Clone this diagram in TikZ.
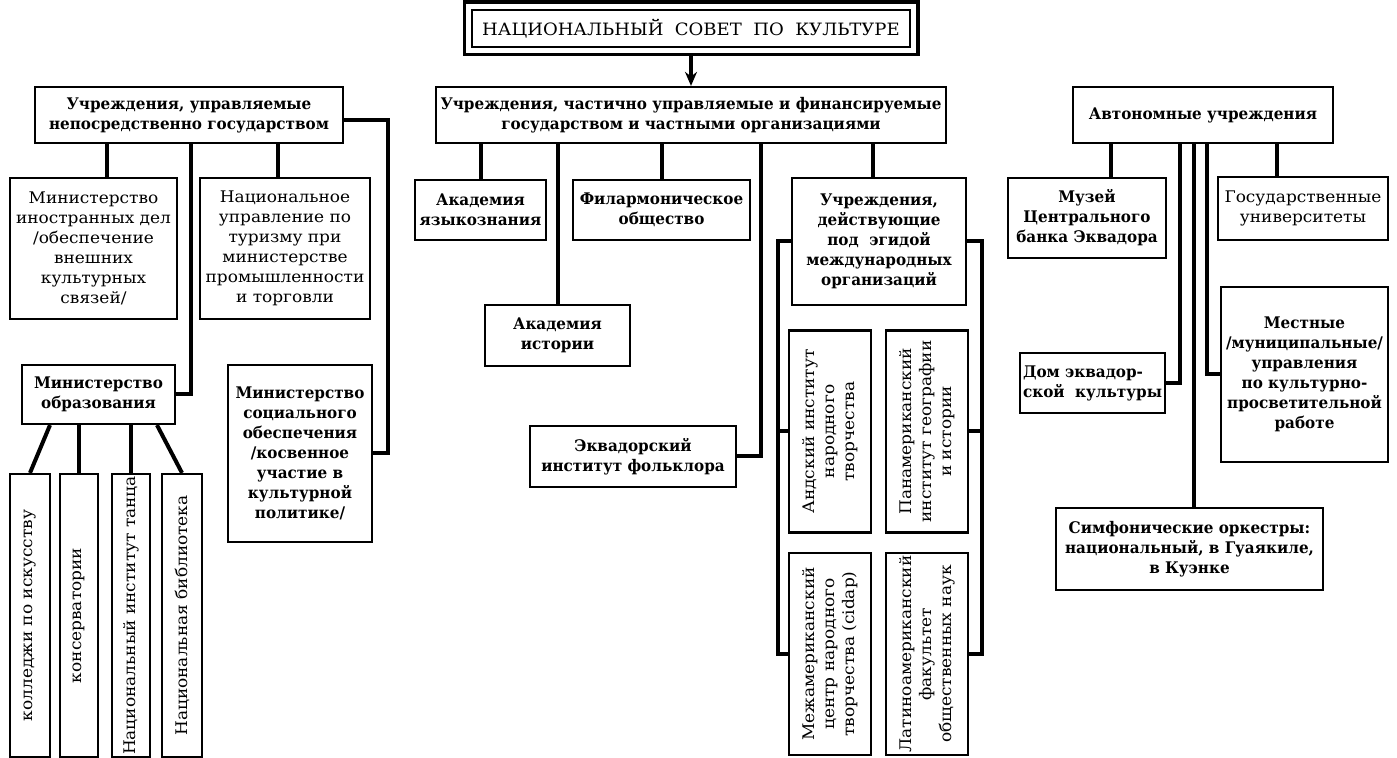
\documentclass[tikz,border=0pt]{standalone}
\usepackage{fontspec}
\setmainfont{DejaVu Serif}[UprightFeatures={FakeStretch=1.06}, BoldFeatures={FakeStretch=0.95}]
\usetikzlibrary{arrows.meta}

\newcommand{\chartfont}{\fontsize{8}{10}\selectfont}

\begin{document}
\begin{tikzpicture}[x=0.5pt,y=-0.5pt,
    blk/.style={draw, line width=1.1pt, align=center, inner sep=1pt, font=\chartfont\bfseries},
    blkplain/.style={blk, font=\chartfont},
    vblk/.style={blkplain, rotate=90},
    link/.style={line width=2pt}]
  \useasboundingbox (0,0) rectangle (1397,758);

  % council
  \node[blkplain, line width=0.9pt, minimum width=219pt, minimum height=18.5pt,
        font=\fontsize{8.5}{10}\selectfont] (sovet) at (691,28.5)
        {НАЦИОНАЛЬНЫЙ\ \ СОВЕТ\ \ ПО\ \ КУЛЬТУРЕ};
  \draw[line width=1.6pt] ([shift={(-3.5pt,3.5pt)}]sovet.north west) rectangle ([shift={(3.5pt,-3.5pt)}]sovet.south east);

  % three groups
  \node[blk, minimum width=154pt, minimum height=28pt] (gos) at (189,115)
        {Учреждения, управляемые\\непосредственно государством};
  \node[blk, minimum width=255pt, minimum height=28pt] (chast) at (691,115)
        {Учреждения, частично управляемые и финансируемые\\государством и частными организациями};
  \node[blk, minimum width=130pt, minimum height=28pt] (avto) at (1203,115)
        {Автономные учреждения};
  \draw[link, -{Stealth[length=7pt,width=6pt]}] ([yshift=-3.5pt]sovet.south) -- (chast.north);

  % state
  \node[blkplain, minimum width=83.5pt, minimum height=70.5pt] (mid) at (93.5,248.5)
        {Министерство\\иностранных дел\\/обеспечение\\внешних\\культурных\\связей/};
  \node[blkplain, minimum width=85pt, minimum height=70.5pt] (turizm) at (285,248.5)
        {Национальное\\управление по\\туризму при\\министерстве\\промышленности\\и торговли};
  \node[blk, minimum width=76.5pt, minimum height=29.5pt] (obraz) at (98.5,394.5)
        {Министерство\\образования};
  \node[blk, minimum width=72pt, minimum height=88.5pt] (socobes) at (300,453.5)
        {Министерство\\социального\\обеспечения\\/косвенное\\участие в\\культурной\\политике/};
  \node[vblk, minimum width=141.5pt, minimum height=20pt] (kolledzh) at (30,615.5) {колледжи по искусству};
  \node[vblk, minimum width=141.5pt, minimum height=19pt] (konserv) at (79,615.5) {консерватории};
  \node[vblk, minimum width=141.5pt, minimum height=19pt] (tanec) at (131,615.5) {Национальный институт танца};
  \node[vblk, minimum width=141.5pt, minimum height=20pt] (biblio) at (182,615.5) {Национальная библиотека};

  \draw[link] (107,0 |- gos.south) -- (107,0 |- mid.north);
  \draw[link] (191,0 |- gos.south) |- (obraz.east);
  \draw[link] (278,0 |- gos.south) -- (278,0 |- turizm.north);
  \draw[link] ([yshift=-2.5pt]gos.east) -| ([xshift=7.5pt]socobes.east) -- (socobes.east);
  \draw[link] (50,0 |- obraz.south) -- (kolledzh.east);
  \draw[link] (konserv.east |- obraz.south) -- (konserv.east);
  \draw[link] (tanec.east |- obraz.south) -- (tanec.east);
  \draw[link] (157,0 |- obraz.south) -- (biblio.east);

  % mixed
  \node[blk, minimum width=65.5pt, minimum height=30pt] (yazyk) at (480.5,210)
        {Академия\\языкознания};
  \node[blk, minimum width=88.5pt, minimum height=30pt] (filarm) at (661.5,210)
        {Филармоническое\\общество};
  \node[blk, minimum width=87pt, minimum height=63.5pt] (mezhd) at (879,241.5)
        {Учреждения,\\действующие\\под\ \ эгидой\\международных\\организаций};
  \node[blk, minimum width=72.5pt, minimum height=30.5pt] (istor) at (557.5,335.5)
        {Академия\\истории};
  \node[blk, minimum width=103pt, minimum height=30.5pt] (folklor) at (633,456.5)
        {Эквадорский\\институт фольклора};
  \node[vblk, minimum width=101pt, minimum height=41pt] (andsk) at (830,431.5)
        {Андский институт\\народного\\творчества};
  \node[vblk, minimum width=101pt, minimum height=41pt] (panam) at (927,431.5)
        {Панамериканский\\институт географии\\и истории};
  \node[vblk, minimum width=101pt, minimum height=41pt] (cidap) at (830,654)
        {Межамериканский\\центр народного\\творчества (cidap)};
  \node[vblk, minimum width=101pt, minimum height=41pt] (latin) at (927,654)
        {Латиноамериканский\\факультет\\общественных наук};

  \draw[link] (yazyk.north |- chast.south) -- (yazyk.north);
  \draw[link] (istor.north |- chast.south) -- (istor.north);
  \draw[link] (filarm.north |- chast.south) -- (filarm.north);
  \draw[link] (761,0 |- chast.south) |- (folklor.east);
  \draw[link] (873,0 |- chast.south) -- (873,0 |- mezhd.north);
  \draw[link] (mezhd.west) -| ([xshift=-5pt]cidap.north) -- (cidap.north);
  \draw[link] ([xshift=-5pt]andsk.north) -- (andsk.north);
  \draw[link] (mezhd.east) -| ([xshift=6.5pt]latin.south) -- (latin.south);
  \draw[link] ([xshift=6.5pt]panam.south) -- (panam.south);

  % autonomous
  \node[blk, minimum width=79pt, minimum height=40pt] (muzey) at (1087,218)
        {Музей\\Центрального\\банка Эквадора};
  \node[blkplain, minimum width=85pt, minimum height=31.5pt] (univer) at (1303,208.5)
        {Государственные\\университеты};
  \node[blk, minimum width=83.5pt, minimum height=87.5pt] (mestn) at (1304.5,374.5)
        {Местные\\/муниципальные/\\управления\\по культурно-\\просветительной\\работе};
  \node[blk, align=left, minimum width=72.5pt, minimum height=30pt] (dom) at (1092.5,383)
        {Дом эквадор-\\ской\ \ культуры};
  \node[blk, minimum width=133.5pt, minimum height=41pt] (simf) at (1189.5,549)
        {Симфонические оркестры:\\национальный, в Гуаякиле,\\в Куэнке};

  \draw[link] (1111,0 |- avto.south) -- (1111,0 |- muzey.north);
  \draw[link] (1180,0 |- avto.south) |- (dom.east);
  \draw[link] (1194,0 |- avto.south) -- (1194,0 |- simf.north);
  \draw[link] (1207,0 |- avto.south) |- (mestn.west);
  \draw[link] (1277,0 |- avto.south) -- (1277,0 |- univer.north);
\end{tikzpicture}
\end{document}
